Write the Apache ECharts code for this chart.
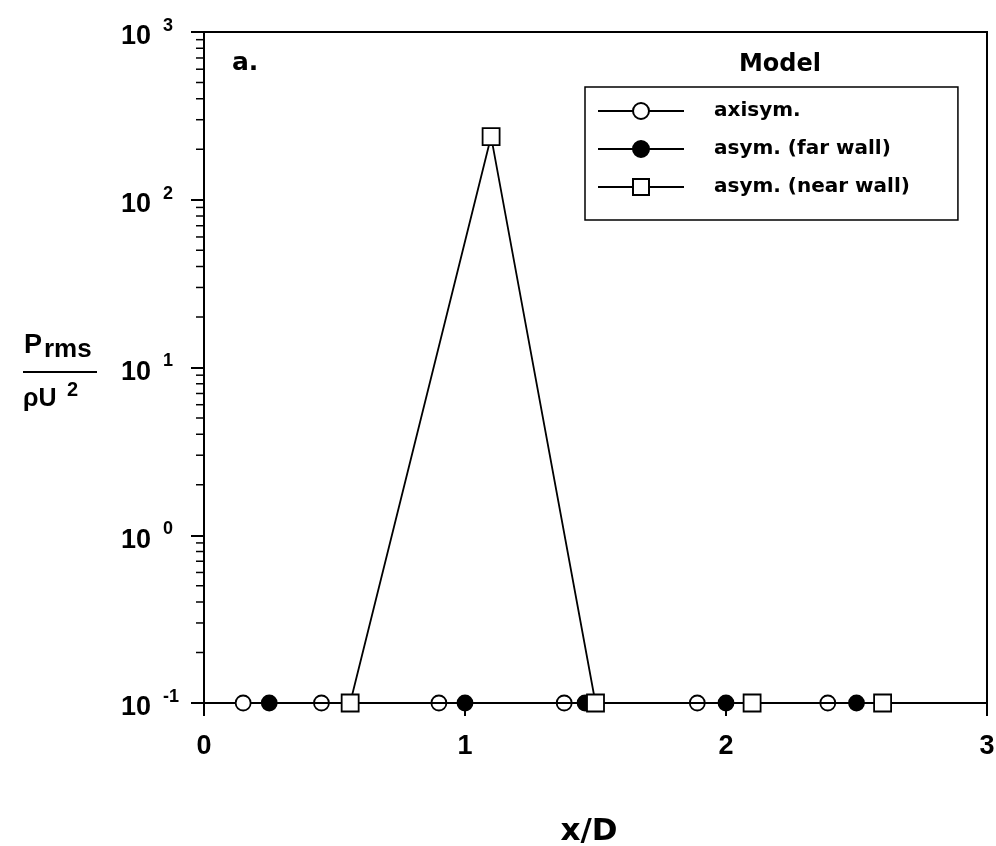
<!DOCTYPE html>
<html>
<head>
<meta charset="utf-8">
<script src="https://cdn.jsdelivr.net/npm/echarts@6/dist/echarts.min.js"></script>
<style>html,body{margin:0;padding:0;background:#fff;}#c{width:996px;height:846px;}</style>
</head>
<body>
<div id="c"></div>
<script>
// ---- data ----
const seriesNames = ['axisym.', 'asym. (far wall)', 'asym. (near wall)'];
const axisymX = [0.15, 0.45, 0.90, 1.38, 1.89, 2.39];
const axisymY = [0.1, 0.1, 0.1, 0.1, 0.1, 0.1];
const farX = [0.25, 1.00, 1.46, 2.00, 2.50];
const farY = [0.1, 0.1, 0.1, 0.1, 0.1];
const nearX = [0.56, 1.10, 1.50, 2.10, 2.60];
const nearY = [0.1, 238, 0.1, 0.1, 0.1];
const xTicks = [0, 1, 2, 3];
const yDecades = [0.1, 1, 10, 100, 1000];
const minorMult = [2, 3, 4, 5, 6, 7, 8, 9];

const NUMF = '"Liberation Sans", Arial, sans-serif';
const TXTF = '"DejaVu Sans", sans-serif';

const pairs = (xs, ys) => xs.map((x, i) => [x, ys[i]]);
const minorTicks = [];
yDecades.slice(0, -1).forEach(d => minorMult.forEach(m => minorTicks.push([m * d])));

const chart = echarts.init(document.getElementById('c'), null, {renderer: 'canvas'});
chart.setOption({
  backgroundColor: '#fff',
  animation: false,
  grid: {left: 204, right: 9, top: 32, bottom: 143, show: true, borderColor: '#000', borderWidth: 2, backgroundColor: 'transparent', containLabel: false, outerBoundsMode: 'none'},
  xAxis: {
    type: 'value', min: xTicks[0], max: xTicks[xTicks.length - 1], interval: 1,
    axisLine: {show: true, lineStyle: {color: '#000', width: 2}},
    axisTick: {show: true, length: 13, inside: false, lineStyle: {color: '#000', width: 2}},
    splitLine: {show: false},
    axisLabel: {margin: 30, color: '#000', fontFamily: NUMF, fontWeight: 'bold', fontSize: 27,
      showMinLabel: true, showMaxLabel: true}
  },
  yAxis: {
    type: 'log', logBase: 10, min: yDecades[0], max: yDecades[yDecades.length - 1],
    axisLine: {show: true, lineStyle: {color: '#000', width: 2}},
    axisTick: {show: true, length: 13, inside: false, lineStyle: {color: '#000', width: 2}},
    splitLine: {show: false},
    minorTick: {show: false},
    axisLabel: {
      margin: 83, align: 'left', color: '#000', showMinLabel: true, showMaxLabel: true,
      formatter: v => '{b|10}{e|' + Math.round(Math.log10(v)) + '}',
      rich: {
        b: {fontFamily: NUMF, fontWeight: 'bold', fontSize: 27, lineHeight: 40, color: '#000', padding: [10, 0, 0, 0]},
        e: {fontFamily: NUMF, fontWeight: 'bold', fontSize: 18, lineHeight: 18, verticalAlign: 'top', color: '#000', padding: [5, 0, 0, 12]}
      }
    }
  },
  legend: {
    data: seriesNames,
    orient: 'vertical', left: 585, top: 87,
    padding: [14, 48, 23, 12],
    itemWidth: 86, itemHeight: 20, itemGap: 18,
    borderColor: '#000', borderWidth: 1.5, backgroundColor: '#fff',
    textStyle: {fontFamily: TXTF, fontWeight: 'bold', fontSize: 20, color: '#000', padding: [0, 0, 0, 25]}
  },
  graphic: [
    {type: 'text', left: 232, top: 51, style: {text: 'a.', font: 'bold 25px ' + TXTF, fill: '#000'}},
    {type: 'text', x: 780, y: 65, style: {text: 'Model', font: 'bold 24px ' + TXTF, fill: '#000', align: 'center', verticalAlign: 'middle'}},
    {type: 'text', x: 589, y: 832, style: {text: 'x/D', font: 'bold 31px ' + TXTF, fill: '#000', align: 'center', verticalAlign: 'middle'}},
    {type: 'text', x: 24, y: 346, style: {text: 'P', font: 'bold 27px ' + NUMF, fill: '#000', align: 'left', verticalAlign: 'middle'}},
    {type: 'text', x: 44, y: 350, style: {text: 'rms', font: 'bold 26px ' + NUMF, fill: '#000', align: 'left', verticalAlign: 'middle'}},
    {type: 'line', shape: {x1: 23, y1: 372, x2: 97, y2: 372}, style: {stroke: '#000', lineWidth: 2}},
    {type: 'text', x: 23, y: 399, style: {text: 'ρU', font: 'bold 25px ' + NUMF, fill: '#000', align: 'left', verticalAlign: 'middle'}},
    {type: 'text', x: 67, y: 390, style: {text: '2', font: 'bold 20px ' + NUMF, fill: '#000', align: 'left', verticalAlign: 'middle'}}
  ],
  series: [
    {
      type: 'custom', name: 'minorTicks', data: minorTicks, z: 2, silent: true, clip: false,
      encode: {y: 0},
      renderItem: (params, api) => {
        const p = api.coord([0, api.value(0)]);
        return {type: 'line', shape: {x1: p[0] - 8, y1: p[1], x2: p[0], y2: p[1]}, style: {stroke: '#000', lineWidth: 1.5}};
      }
    },
    {
      type: 'line', name: seriesNames[0], data: pairs(axisymX, axisymY), z: 3, clip: false,
      symbol: 'circle', symbolSize: 15,
      lineStyle: {color: '#000', width: 1.8},
      itemStyle: {color: '#fff', borderColor: '#000', borderWidth: 1.8}
    },
    {
      type: 'line', name: seriesNames[1], data: pairs(farX, farY), z: 4, clip: false,
      symbol: 'circle', symbolSize: 15,
      lineStyle: {color: '#000', width: 1.8},
      itemStyle: {color: '#000', borderColor: '#000', borderWidth: 1.8}
    },
    {
      type: 'line', name: seriesNames[2], data: pairs(nearX, nearY), z: 5, clip: false,
      symbol: 'rect', symbolSize: 17,
      lineStyle: {color: '#000', width: 1.8},
      itemStyle: {color: '#fff', borderColor: '#000', borderWidth: 1.8}
    }
  ]
});
</script>
</body>
</html>
